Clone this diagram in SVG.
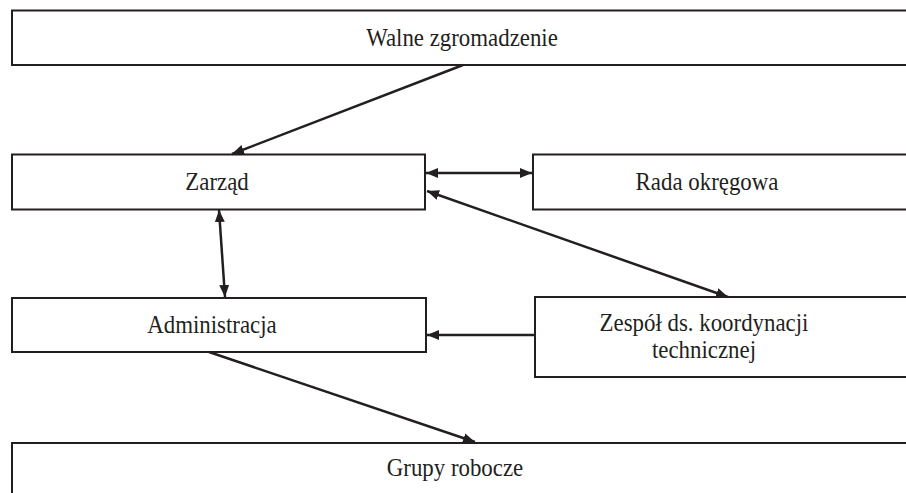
<svg xmlns="http://www.w3.org/2000/svg" width="906" height="493" viewBox="0 0 906 493">
<defs>
<style>
.box{fill:#fff;stroke:#231f20;stroke-width:2}
.lbl{font-family:"Liberation Serif","Times New Roman",serif;font-size:26px;fill:#231f20;text-anchor:middle}
.con{stroke:#231f20;stroke-width:2.5;fill:none}
</style>
<marker id="ah" viewBox="0 0 12 10" refX="12" refY="5" markerWidth="12" markerHeight="10" markerUnits="userSpaceOnUse" orient="auto-start-reverse">
<path d="M0,0 L12,5 L0,10 Z" fill="#231f20"/>
</marker>
</defs>
<rect width="906" height="493" fill="#fff"/>
<g id="walne"><rect class="box" x="12" y="10.5" width="910" height="54.5"/><text class="lbl" transform="translate(462,46) scale(0.88,1)">Walne zgromadzenie</text></g>
<g id="zarzad"><rect class="box" x="12" y="154.5" width="413" height="55"/><text class="lbl" transform="translate(217,190) scale(0.88,1)">Zarząd</text></g>
<g id="rada"><rect class="box" x="533" y="154.5" width="400" height="55"/><text class="lbl" transform="translate(707,190) scale(0.88,1)">Rada okręgowa</text></g>
<g id="administracja"><rect class="box" x="12" y="298" width="414" height="54"/><text class="lbl" transform="translate(212,333) scale(0.88,1)">Administracja</text></g>
<g id="zespol"><rect class="box" x="535" y="297" width="400" height="80"/><text class="lbl" transform="translate(704,331) scale(0.88,1)">Zespół ds. koordynacji</text><text class="lbl" transform="translate(704,358) scale(0.88,1)">technicznej</text></g>
<g id="grupy"><rect class="box" x="12" y="443" width="910" height="70"/><text class="lbl" transform="translate(455,476) scale(0.88,1)">Grupy robocze</text></g>
<g id="connectors">
<line class="con" x1="463" y1="65" x2="232" y2="154" marker-end="url(#ah)"/>
<line class="con" x1="426" y1="173" x2="532" y2="173" marker-start="url(#ah)" marker-end="url(#ah)"/>
<line class="con" x1="427" y1="191" x2="728" y2="297" marker-start="url(#ah)" marker-end="url(#ah)"/>
<line class="con" x1="219" y1="210" x2="225" y2="297" marker-start="url(#ah)" marker-end="url(#ah)"/>
<line class="con" x1="534" y1="335" x2="427" y2="335" marker-end="url(#ah)"/>
<line class="con" x1="209" y1="352" x2="475" y2="442" marker-end="url(#ah)"/>
</g>
</svg>
